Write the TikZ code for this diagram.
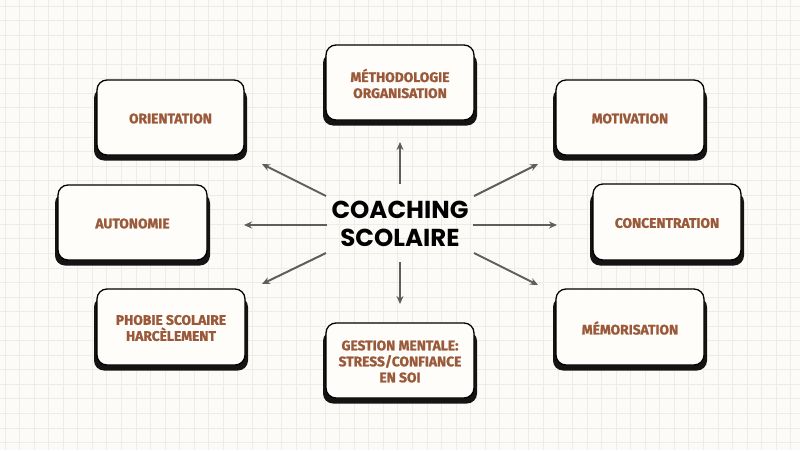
\documentclass[tikz,border=0pt]{standalone}
\usepackage{fontspec}
\setmainfont{Fira Sans}
\newfontfamily\heavy{Fira Sans}[FakeBold=1.2]
\newfontfamily\poppins{Poppins}
\usetikzlibrary{arrows.meta}
\definecolor{bg}{HTML}{FCFBF8}
\definecolor{gridc}{HTML}{EEECE8}
\definecolor{txt}{HTML}{9A5A3A}
\definecolor{boxfill}{HTML}{FFFDFA}
\definecolor{arr}{HTML}{5F5D5D}
\newcommand\mycard[6]{%
  \fill[cardshadow] (#2-3,#3+8) rectangle (#4+3,#5+5.5);
  \draw[card] (#2,#3) rectangle (#4,#5);
  \node[lbl] (#1) at ({(#2+#4)/2},{(#3+#5)/2+1}) {#6};
}
\begin{document}
\begin{tikzpicture}[x=1pt,y=-1pt,
  card/.style={draw=black,line width=1.3pt,fill=boxfill,rounded corners=10pt},
  cardshadow/.style={fill=black!92,rounded corners=10pt},
  lbl/.style={text=txt,font=\heavy\fontsize{13.8}{16}\selectfont\bfseries,align=center},
  core/.style={text=black,font=\poppins\fontsize{24.5}{28}\selectfont\bfseries,align=center},
  link/.style={draw=arr,line width=2pt,-{Stealth[length=8pt,width=7pt]}}]
\fill[bg] (0,0) rectangle (800,450);
\useasboundingbox (0,0) rectangle (800,450);
\foreach \i in {0,...,55} \draw[gridc,line width=0.8pt] ({5+\i*14.55},0) -- ++(0,450);
\foreach \i in {0,...,31} \draw[gridc,line width=0.8pt] (0,{6+\i*14.55}) -- ++(800,0);

\mycard{orient}{97}{80}{244}{155}{ORIENTATION}
\mycard{metho}{326}{45}{474}{120}{MÉTHODOLOGIE\\ORGANISATION}
\mycard{motiv}{556}{80}{704}{155}{MOTIVATION}
\mycard{auto}{58}{185}{207}{260}{AUTONOMIE}
\mycard{conc}{593}{184}{741}{260}{CONCENTRATION}
\mycard{phob}{97}{289}{245}{365}{PHOBIE SCOLAIRE\\HARCÈLEMENT}
\mycard{memo}{556}{289}{704}{365}{MÉMORISATION}
\mycard{gest}{326}{323}{474}{398}{GESTION MENTALE:\\STRESS/CONFIANCE\\EN SOI}

\node[core] (center) at (400,224) {COACHING\\SCOLAIRE};

\coordinate (uS) at (400,184); \coordinate (uE) at (400,142);
\coordinate (dS) at (400,262); \coordinate (dE) at (400,304);
\coordinate (lS) at (327,225); \coordinate (lE) at (244,225);
\coordinate (rS) at (473,225); \coordinate (rE) at (557,225);
\coordinate (ulS) at (326,196); \coordinate (ulE) at (262,164);
\coordinate (urS) at (474,196); \coordinate (urE) at (538,164);
\coordinate (llS) at (326,253); \coordinate (llE) at (262,284);
\coordinate (lrS) at (474,253); \coordinate (lrE) at (538,285);
\foreach \a in {u,d,l,r,ul,ur,ll,lr} \draw[link] (\a S) -- (\a E);
\end{tikzpicture}
\end{document}
